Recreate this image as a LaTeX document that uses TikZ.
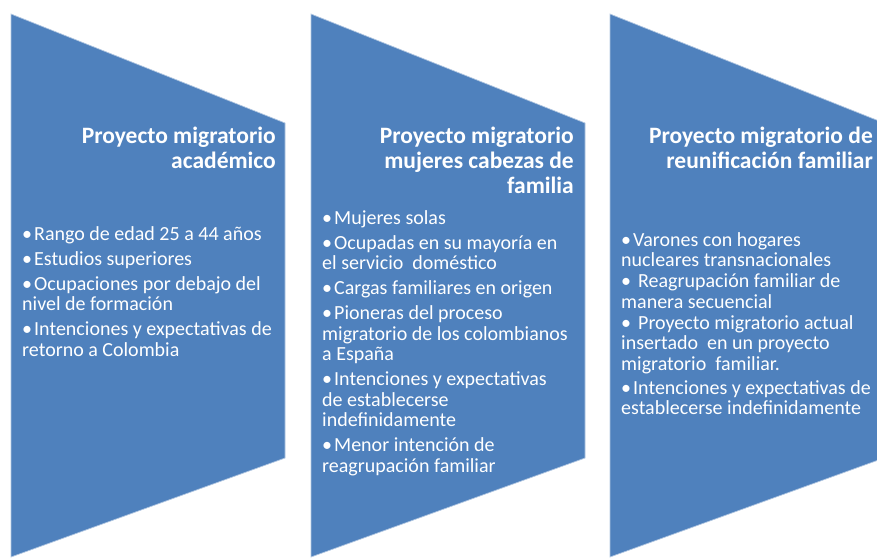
\documentclass[tikz,border=0pt]{standalone}
\usepackage{fontspec}
\setmainfont{Carlito}
\definecolor{pblue}{HTML}{4F81BD}

\tikzset{
  panel/.style={fill=pblue, draw=pblue!45!white, line width=0.7pt},
  ptitle/.style={text=white, font={\fontsize{23.5}{25}\selectfont\bfseries},
    align=right, inner sep=0pt, anchor=north east},
  plist/.style={text=white, font={\fontsize{20}{20.5}\selectfont\lineskiplimit=-10pt},
    align=left, inner sep=0pt, anchor=north west},
}
\newcommand{\pnt}{\textbullet\hspace{2pt}}
\newcommand{\tst}{\rule{0pt}{18pt}}
\newcommand{\fst}{\rule{0pt}{17pt}}

\begin{document}
\begin{tikzpicture}[x=1pt,y=-1pt]
  \useasboundingbox (0,0) rectangle (877,558);
  \clip (0,0) rectangle (877,558);

  % Three panels (chevron-like blocks)
  \foreach \x in {11,311,610} {
    \filldraw[panel] (\x,14) -- (\x+274,123) -- (\x+274,458) -- (\x,557) -- cycle;
  }

  % Titles
  \node[ptitle] (t1) at (276,125) {\tst Proyecto migratorio\\académico};
  \node[ptitle] (t2) at (574,125) {\tst Proyecto migratorio\\mujeres cabezas de\\familia};
  \node[ptitle] (t3) at (873,125) {\tst Proyecto migratorio de\\reunificación familiar};

  % Lists
  \node[plist] (l1) at (22,223) {\fst\pnt Rango de edad 25 a 44 años\\[4.5pt]
    \pnt Estudios superiores\\[4.5pt]
    \pnt Ocupaciones por debajo del\\
    nivel de formación\\[4.5pt]
    \pnt Intenciones y expectativas de\\
    retorno a Colombia};

  \node[plist] (l2) at (322,207) {\fst\pnt Mujeres solas\\[4.5pt]
    \pnt Ocupadas en su mayoría en\\
    el servicio\ \ doméstico\\[4.5pt]
    \pnt Cargas familiares en origen\\[4.5pt]
    \pnt Pioneras del proceso\\
    migratorio de los colombianos\\
    a España\\[4.5pt]
    \pnt Intenciones y expectativas\\
    de establecerse\\
    indefinidamente\\[4.5pt]
    \pnt Menor intención de\\
    reagrupación familiar};

  \node[plist] (l3) at (621,229) {\fst\pnt Varones con hogares\\
    nucleares transnacionales\\[0.5pt]
    \pnt\hspace{5pt}Reagrupación familiar de\\
    manera secuencial\\[0.5pt]
    \pnt\hspace{5pt}Proyecto migratorio actual\\
    insertado\ \ en un proyecto\\
    migratorio\ \ familiar.\\[3.5pt]
    \pnt Intenciones y expectativas de\\
    establecerse indefinidamente};
\end{tikzpicture}
\end{document}
